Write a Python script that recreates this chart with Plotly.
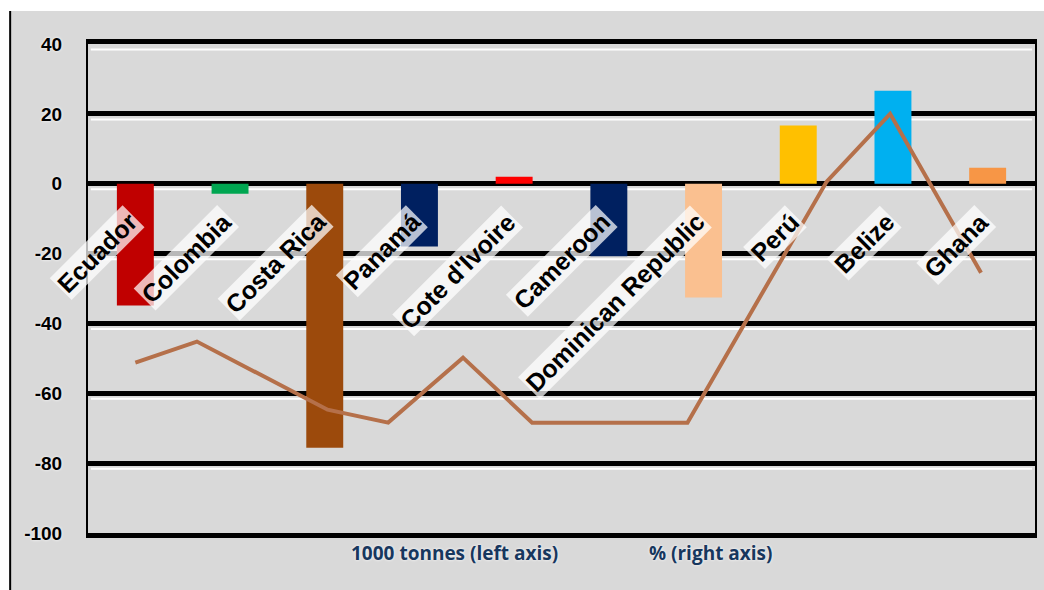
import plotly.graph_objects as go

countries = ["Ecuador", "Colombia", "Costa Rica", "Panamá", "Cote d'Ivoire",
             "Cameroon", "Dominican Republic", "Perú", "Belize", "Ghana"]
tonnes = [-34.9, -2.9, -75.6, -18.0, 2.0, -20.8, -32.6, 16.7, 26.6, 4.6]
bar_colors = ["#c00000", "#00a651", "#9c4a0c", "#002060", "#ff0000",
              "#002060", "#fac090", "#ffc000", "#00b0f0", "#f79646"]
pct_x = [0.0, 0.65, 2.03, 2.67, 3.46, 4.19, 5.83, 7.30, 7.97, 8.93]
pct = [-51.2, -45.2, -64.7, -68.4, -49.8, -68.4, -68.4, 0.6, 20.0, -25.5]
y_ticks = [40, 20, 0, -20, -40, -60, -80, -100]

idx = list(range(len(countries)))

fig = go.Figure()
fig.add_trace(go.Bar(x=idx, y=tonnes, marker_color=bar_colors, width=0.39,
                     marker_line_width=0, name="1000 tonnes (left axis)"))
fig.add_trace(go.Scatter(x=pct_x, y=pct, mode="lines", yaxis="y2",
                         line=dict(color="#b5704a", width=4),
                         name="% (right axis)"))

for i, c in zip(idx, countries):
    fig.add_annotation(x=i + 0.1, y=-6.0, xref="x", yref="y", text="<b>" + c + "</b>",
                       textangle=-45, showarrow=False, xanchor="right", yanchor="top",
                       bgcolor="rgba(255,255,255,0.72)", borderpad=1,
                       font=dict(family="Liberation Sans, Arial", size=25, color="black"))

for label, cx in [("1000 tonnes (left axis)", 455), ("% (right axis)", 712)]:
    fig.add_annotation(x=-0.5 + (cx - 88) / 94.9, y=-0.04, xref="x", yref="paper",
                       text="<b>" + label + "</b>", showarrow=False, yanchor="middle",
                       font=dict(family="Open Sans", size=19, color="#17375e",
                                 shadow="0px 0px 3px white"))

# grey chart background
fig.add_shape(type="rect", xref="paper", yref="paper", x0=-0.0822, x1=1.01,
              y0=-0.12, y1=1.0675, fillcolor="#d9d9d9", line_width=0, layer="below")
fig.add_shape(type="line", xref="paper", yref="paper", x0=-0.0822, x1=-0.0822,
              y0=-0.12, y1=1.0675, line=dict(color="black", width=2))
# light highlight below each gridline
for v in y_ticks[:-1]:
    fig.add_shape(type="line", xref="paper", yref="y", x0=0.003, x1=0.997,
                  y0=v - 1.6, y1=v - 1.6, line=dict(color="white", width=2),
                  layer="below")

fig.update_layout(
    width=1044, height=590,
    margin=dict(l=88, r=7, t=44, b=57),
    paper_bgcolor="white", plot_bgcolor="#d9d9d9",
    showlegend=False,
    xaxis=dict(range=[-0.5, 9.5], showticklabels=False, showgrid=False,
               zeroline=False, ticks="", showline=True, mirror=True,
               linecolor="black", linewidth=5),
    yaxis=dict(range=[-100, 40], tickvals=y_ticks, ticktext=[str(v) for v in y_ticks],
               showgrid=True, gridcolor="black", gridwidth=5,
               zeroline=True, zerolinecolor="black", zerolinewidth=5,
               showline=True, mirror=True, linecolor="black", linewidth=2,
               ticks="outside", ticklen=20, tickcolor="rgba(0,0,0,0)",
               tickfont=dict(family="Liberation Sans, Arial", size=19, color="black",
                             weight="bold", shadow="0px 0px 3px white")),
    yaxis2=dict(range=[-100, 40], overlaying="y", side="right", visible=False),
)

fig.write_html("out.html")
